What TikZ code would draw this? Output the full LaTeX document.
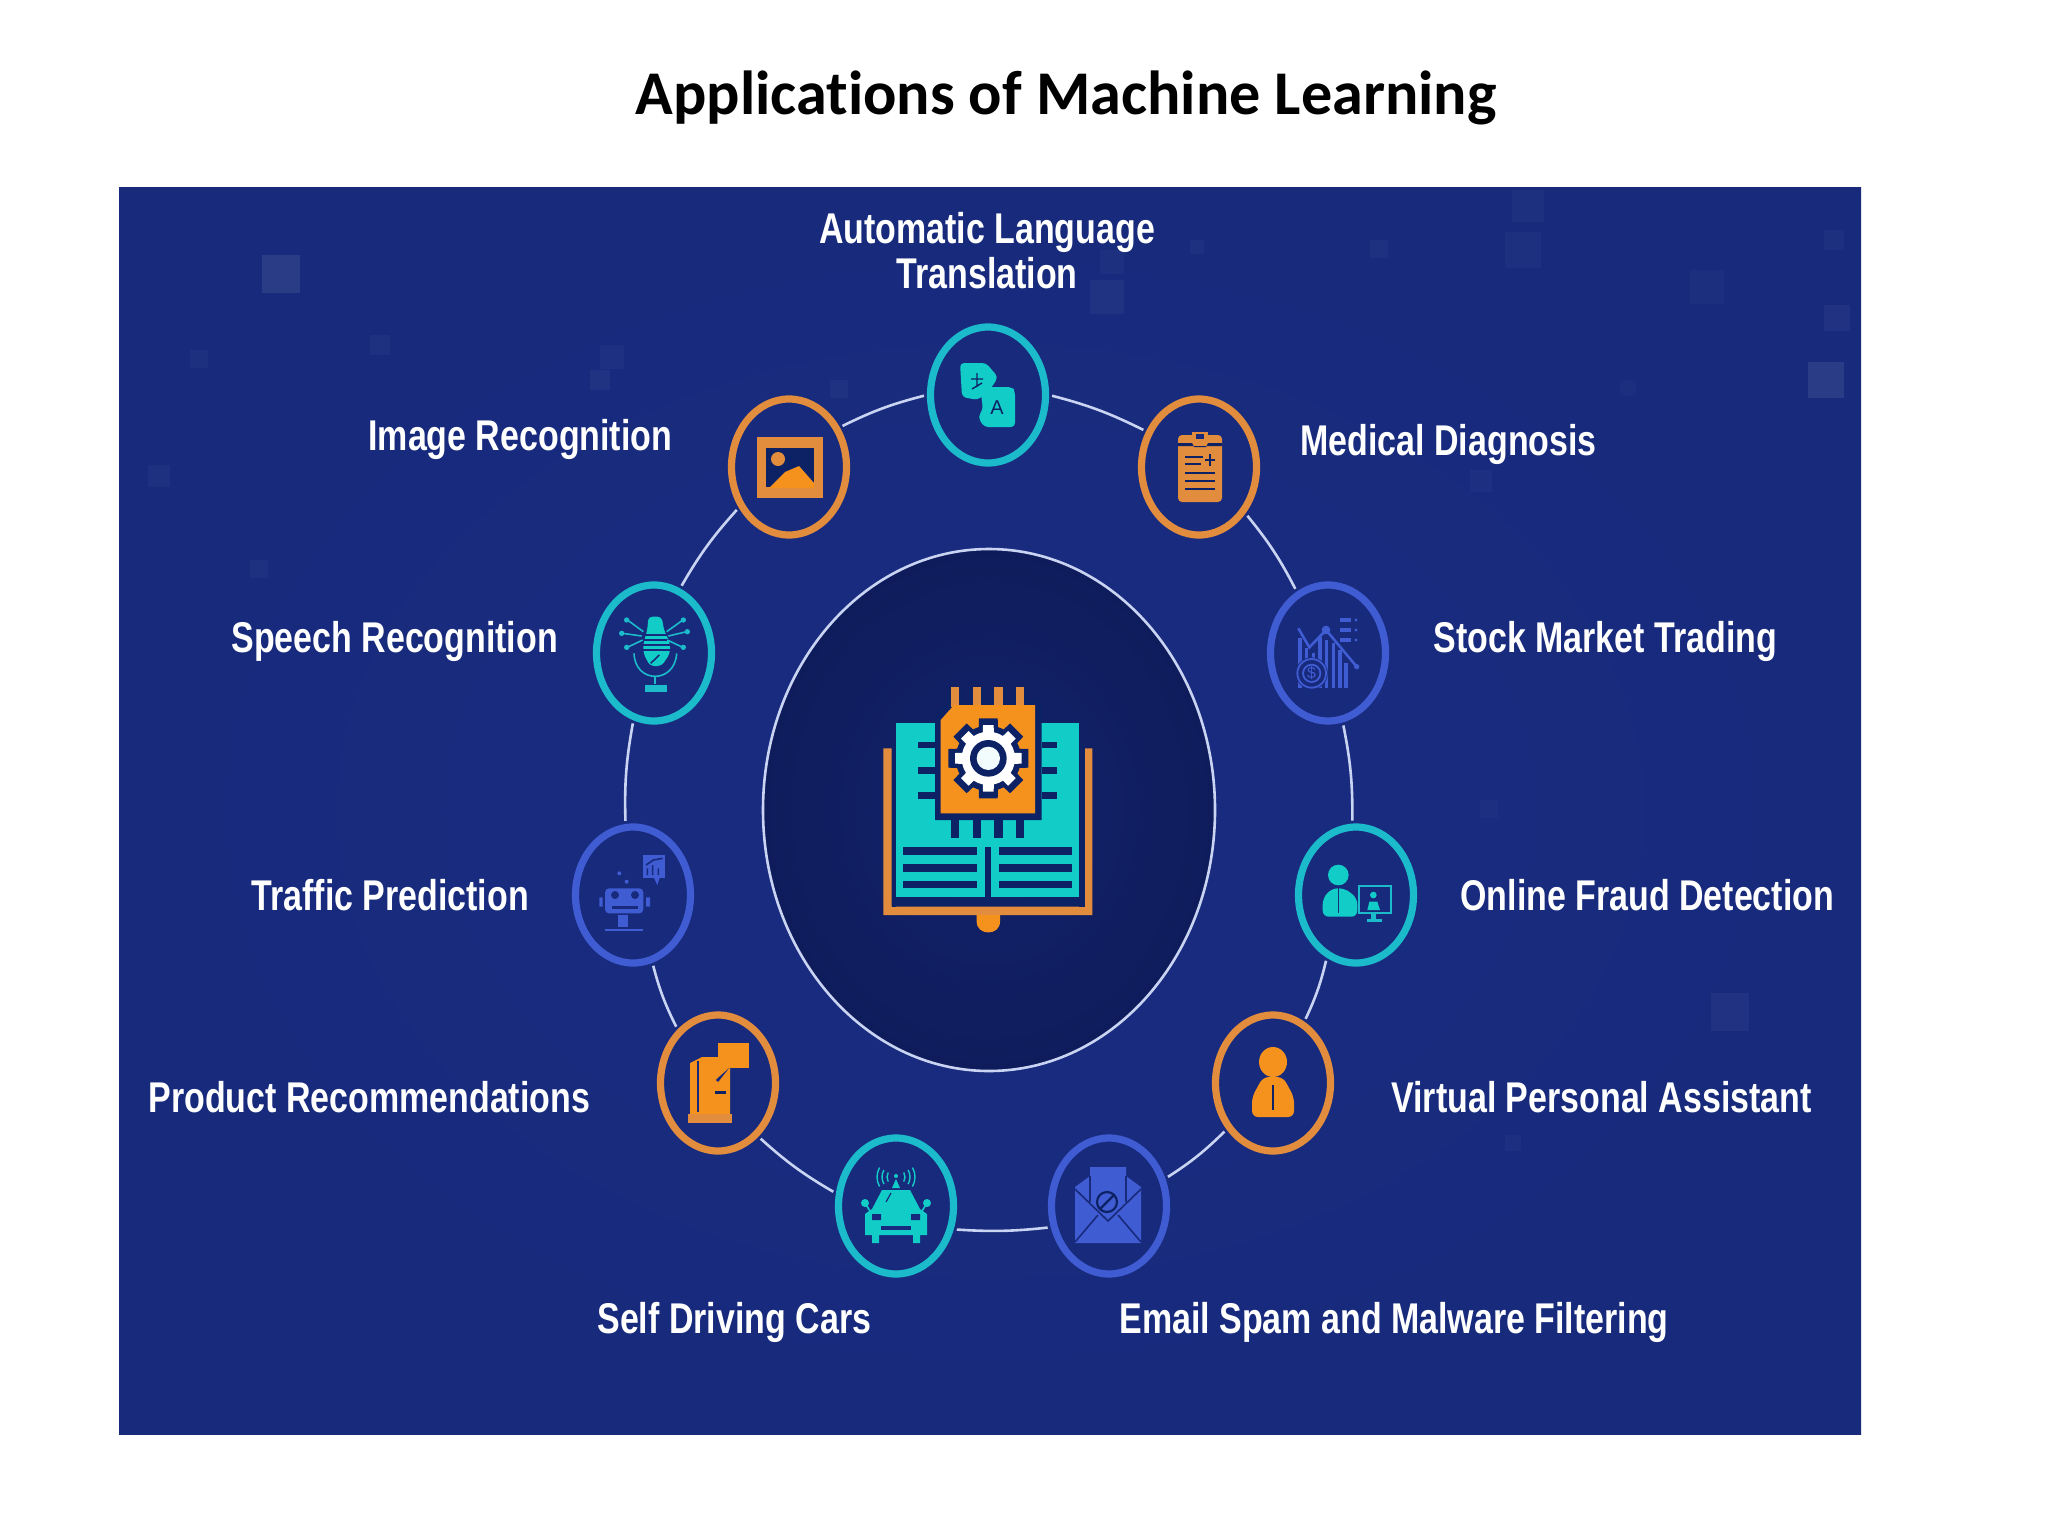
\documentclass[tikz,border=0pt]{standalone}
\usepackage{fontspec}
\usetikzlibrary{shapes.geometric,calc}
\setmainfont{Liberation Sans}
\newfontfamily\titlefont[Ligatures=NoCommon]{Carlito}
\newfontfamily\lblfont[FakeStretch=0.79]{Liberation Sans}
\definecolor{panel}{HTML}{172A7C}
\definecolor{panelglow}{HTML}{192C80}
\definecolor{corein}{HTML}{13236C}
\definecolor{coreout}{HTML}{0F1C5C}
\definecolor{ringline}{HTML}{C9D3F2}
\definecolor{orng}{HTML}{E28C3E}
\definecolor{orngfill}{HTML}{F5921E}
\definecolor{tealring}{HTML}{1CBBCB}
\definecolor{tealfill}{HTML}{12CCC8}
\definecolor{bluering}{HTML}{405CD2}
\definecolor{darkink}{HTML}{0D2264}
\tikzset{
  hub/.style={ellipse,inner sep=0pt,minimum width=57.5pt,minimum height=68pt,line width=3.6pt,fill=panel},
  hubteal/.style={hub,draw=tealring},
  huborange/.style={hub,draw=orng},
  hubblue/.style={hub,draw=bluering},
  lbl/.style={text=white,font=\lblfont\bfseries\fontsize{21.5}{22.5}\selectfont,align=center,inner sep=0pt,text height=15.4pt,text depth=0pt},
  arc/.style={draw=ringline,line width=1.3pt,shorten <=1.5pt,shorten >=1.5pt},
  zoomunit/.style={x=0.16667pt,y=-0.16667pt},
}
\begin{document}
\begin{tikzpicture}[x=0.5pt,y=-0.5pt]
\useasboundingbox (0,0) rectangle (2048,1536);
\fill[white] (0,0) rectangle (2048,1536);
% title
\node[font=\titlefont\bfseries\fontsize{31.1}{34}\selectfont,text=black,inner sep=0pt] (title) at (1066,98) {Applications of Machine Learning};
% panel
\shade[inner color=panelglow,outer color=panel] (119,187) rectangle (1861,1434);
% faint squares
\foreach \px/\py/\ps/\po in {262/255/38/.4,1808/362/36/.4,1711/993/38/.18,1512/190/32/.12,1505/232/36/.12,1824/305/26/.18,1824/230/20/.12,1090/280/34/.18,1100/250/24/.12,600/345/24/.15,590/370/20/.18,370/335/20/.15,190/350/18/.12,148/465/22/.14,250/560/18/.14,1370/240/18/.14,1690/270/34/.1,1620/380/16/.1,1470/470/22/.1,830/380/18/.14,1480/800/18/.1,1505/1135/16/.1,1190/240/14/.14}
  \fill[white,opacity=\po*0.22] (\px,\py) rectangle ++(\ps,\ps);
% centre
\node[ellipse,inner sep=0pt,minimum width=226pt,minimum height=261pt,draw=ringline,line width=1.3pt,inner color=corein,outer color=coreout] (core) at (989,810) {};
% hubs
\node[hubteal] (auto) at (988,395) {};
\node[huborange] (medical) at (1199,467) {};
\node[hubblue] (stock) at (1328,653) {};
\node[hubteal] (online) at (1356,895) {};
\node[huborange] (virtual) at (1273,1083) {};
\node[hubblue] (email) at (1109,1206) {};
\node[hubteal] (self) at (896,1206) {};
\node[huborange] (product) at (718,1083) {};
\node[hubblue] (traffic) at (633,895) {};
\node[hubteal] (speech) at (654,653) {};
\node[huborange] (image) at (789,467) {};
% connectors
\draw[arc] (auto.0) to[bend left=6] (medical.146);
\draw[arc] (medical.-45) to[bend left=6] (stock.117);
\draw[arc] (stock.-78) to[bend left=6] (online.93);
\draw[arc] (online.-115) to[bend left=6] (virtual.63);
\draw[arc] (virtual.-135) to[bend left=6] (email.26);
\draw[arc] (email.200) to[bend left=5] (self.-22);
\draw[arc] (self.168) to[bend left=6] (product.-53);
\draw[arc] (product.127) to[bend left=6] (traffic.-74);
\draw[arc] (traffic.96) to[bend left=6] (speech.-107);
\draw[arc] (speech.68) to[bend left=6] (image.-141);
\draw[arc] (image.38) to[bend left=6] (auto.180);
% central icon
\begin{scope}[shift={(820,640)},zoomunit]
  \fill[orng] (190,325) -- (215,325) -- (215,800) -- (795,800) -- (795,325) -- (817,325) -- (817,825) -- (190,825) -- cycle;
  \fill[orngfill] (470,825) -- (470,845) .. controls (470,888) and (540,888) .. (540,845) -- (540,825) -- cycle;
  \fill[darkink] (215,310) rectangle (228,800);
  \fill[darkink] (778,310) rectangle (795,800);
  \fill[tealfill] (228,250) rectangle (778,772);
  \fill[darkink] (215,775) rectangle (795,797);
  \fill[darkink] (495,620) rectangle (513,780);
  \foreach \ly in {622,672,722} {
    \fill[darkink] (250,\ly) rectangle (470,\ly+23);
    \fill[darkink] (537,\ly) rectangle (755,\ly+23);
  }
  \foreach \ly in {305,382,457} {
    \fill[darkink] (295,\ly) rectangle (345,\ly+20);
    \fill[darkink] (665,\ly) rectangle (712,\ly+20);
  }
  \foreach \lx in {393,458,523,588} {
    \fill[darkink] (\lx,540) rectangle (\lx+25,595);
    \fill[darkink] (\lx-12,150) rectangle (\lx+37,195);
  }
  \fill[darkink] (345,228) -- (392,178) -- (665,178) -- (665,540) -- (345,540) -- cycle;
  \foreach \lx in {393,458,523,588}
    \fill[orng] (\lx,140) rectangle (\lx+25,200);
  \fill[orngfill] (362,240) -- (402,195) -- (645,195) -- (645,520) -- (362,520) -- cycle;
  \fill[darkink] (505,355) circle (98);
  \foreach \ga in {0,45,...,315}
    \fill[darkink,rotate around={\ga:(505,355)}] (473,355) -- (477,235) -- (533,235) -- (537,355) -- cycle;
  \fill[white] (505,355) circle (80);
  \foreach \ga in {0,45,...,315}
    \fill[white,rotate around={\ga:(505,355)}] (487,355) -- (489,255) -- (521,255) -- (523,355) -- cycle;
  \fill[darkink] (505,355) circle (55);
  \fill[white!95!tealfill] (505,355) circle (35);
\end{scope}
% automatic translation icon
\begin{scope}[shift={(988,395)}]
  \fill[tealfill,rounded corners=2pt] (-28,-32) -- (-2,-32) -- (10,-18) -- (4,-8) -- (-10,5) -- (-26,2) -- cycle;
  \fill[tealfill,rounded corners=2pt] (-8,-8) -- (24,-8) -- (27,-4) -- (27,32) -- (-4,32) -- (-10,22) -- (-5,14) -- cycle;
  \draw[darkink,line width=.7pt] (-17,-16) -- (-5,-16) (-11,-22) -- (-11,-8) (-16,-6) -- (-6,-12);
  \node[text=darkink,font=\fontsize{10}{10}\selectfont,inner sep=0pt] (glyphA) at (9,13) {A};
\end{scope}
% image icon
\begin{scope}[shift={(789,467)}]
  \fill[orng] (-32,-30) rectangle (34,31);
  \fill[darkink] (-23,-19) rectangle (25,20);
  \fill[orng] (-11,-8) circle (7);
  \fill[orngfill] (-20,21) -- (-4,5) -- (10,-1) -- (25,16) -- (25,21) -- cycle;
\end{scope}
% medical icon
\begin{scope}[shift={(1199,467)}]
  \fill[orng,rounded corners=2pt] (-21,-32) rectangle (23,35);
  \fill[orng] (-7,-35) rectangle (9,-24);
  \fill[darkink] (-21,-24) -- (-7,-24) -- (-5,-20) -- (7,-20) -- (9,-24) -- (23,-24) -- (23,-21) -- (-21,-21) -- cycle;
  \fill[panel] (-3,-33) rectangle (5,-28);
  \draw[darkink,line width=1.1pt] (-14,-10) -- (4,-10) (-14,-3) -- (2,-3) (-14,6) -- (16,6) (-14,14) -- (16,14) (-14,22) -- (16,22) (11,-13) -- (11,-1) (6,-7) -- (16,-7);
\end{scope}
% speech icon
\begin{scope}[shift={(560,560)},zoomunit]
  \fill[tealfill,rounded corners=2pt] (265,170) -- (305,170) -- (312,210) -- (330,250) -- (330,280) -- (305,318) -- (270,318) -- (250,280) -- (250,250) -- (262,210) -- cycle;
  \draw[panel,line width=.8pt] (240,225) -- (340,225) (240,240) -- (340,240) (240,255) -- (340,255) (240,270) -- (340,270);
  \draw[panel,line width=.8pt] (272,310) -- (298,285);
  \draw[tealring,line width=.8pt] (222,280) .. controls (225,372) and (345,372) .. (350,280);
  \draw[tealring,line width=.8pt] (285,352) -- (285,372);
  \fill[tealring] (255,375) rectangle (320,397);
  \draw[tealring,line width=.8pt] (250,215) -- (205,182) (245,228) -- (188,220) (248,240) -- (202,262)
     (320,215) -- (366,182) (325,228) -- (380,215) (322,240) -- (368,262);
  \foreach \dx/\dy in {200/180,185/220,200/262,370/180,382/215,370/262}
    \fill[tealring] (\dx,\dy) circle (8);
\end{scope}
% traffic icon
\begin{scope}[shift={(560,560)},zoomunit]
  \fill[bluering] (248,885) rectangle (315,955);
  \fill[bluering] (280,950) -- (300,950) -- (292,975) -- cycle;
  \draw[panel,line width=.8pt] (262,945) -- (262,925) (278,945) -- (278,915) (295,945) -- (295,925) (258,915) -- (280,900) -- (308,895);
  \fill[bluering,rounded corners=2pt] (135,985) rectangle (250,1060);
  \fill[panel] (165,1005) circle (12) (225,1005) circle (12);
  \fill[panel] (155,1038) rectangle (235,1046);
  \fill[bluering] (118,1012) rectangle (128,1040) (258,1012) rectangle (270,1040);
  \fill[bluering] (175,1065) rectangle (205,1100);
  \fill[bluering] (135,1107) rectangle (250,1114);
  \fill[bluering] (178,940) circle (6) (200,965) circle (6);
\end{scope}
% stock icon
\begin{scope}[shift={(1250,560)},zoomunit]
  \foreach \bx/\by in {145/235,165/265,185/280,205/230,225/240,245/250,265/270,283/310}
    \fill[bluering] (\bx,\by) rectangle (\bx+10,385);
  \draw[bluering,line width=1.3pt] (145,205) -- (178,262) -- (228,210) -- (320,320);
  \fill[bluering] (228,210) circle (13) (320,320) circle (8);
  \fill[panel] (185,340) circle (48);
  \draw[bluering,line width=.9pt] (185,340) circle (43) (185,340) circle (26);
  \node[text=bluering,font=\fontsize{8}{8}\selectfont,inner sep=0pt] (dollar) at (185,340) {\$};
  \foreach \ly in {180,210,240} {
    \fill[bluering] (270,\ly-5) rectangle (302,\ly+5);
    \fill[bluering] (318,\ly) circle (5);
  }
\end{scope}
% online fraud icon
\begin{scope}[shift={(1250,560)},zoomunit]
  \fill[tealfill] (265,945) circle (31);
  \fill[tealfill,rounded corners=3pt] (218,1070) -- (218,1015) -- (245,985) -- (285,985) -- (322,1015) -- (322,1070) -- cycle;
  \draw[panel,line width=.6pt] (265,985) -- (265,1060);
  \draw[tealring,line width=1.1pt] (328,977) rectangle (422,1058);
  \fill[tealfill] (370,1005) circle (10);
  \fill[tealfill] (352,1050) -- (358,1025) -- (382,1025) -- (390,1050) -- cycle;
  \fill[tealring] (362,1060) rectangle (378,1078);
  \fill[tealring] (350,1078) rectangle (396,1085);
\end{scope}
% virtual assistant icon
\begin{scope}[shift={(1273,1083)}]
  \fill[orngfill] (0,-21) ellipse (14 and 15);
  \fill[orngfill,rounded corners=3pt] (-21,34) -- (-21,14) -- (-10,-6) -- (10,-6) -- (21,14) -- (21,34) -- cycle;
  \draw[darkink,line width=1.2pt] (0,2) -- (0,27);
\end{scope}
% email icon
\begin{scope}[shift={(1109,1206)}]
  \fill[bluering] (-34,-19) -- (-19,-30) -- (-19,-39) -- (17,-39) -- (17,-30) -- (32,-19) -- (32,37) -- (-34,37) -- cycle;
  \draw[panel,line width=.8pt] (-34,-17) -- (-1,15) -- (32,-17);
  \draw[panel,line width=.8pt] (-34,36) -- (-11,9) (32,36) -- (9,9);
  \draw[panel,line width=.8pt] (-19,-30) -- (-19,-4) (17,-30) -- (17,-4);
  \draw[darkink,line width=1.1pt] (-2,-4) circle (10) (-9,3) -- (5,-11);
\end{scope}
% self driving icon
\begin{scope}[shift={(896,1206)}]
  \fill[tealfill] (-14,-16) -- (14,-16) -- (24,3) -- (31,8) -- (31,29) -- (-31,29) -- (-31,8) -- (-24,3) -- cycle;
  \fill[tealfill] (-24,29) rectangle (-17,37) (17,29) rectangle (24,37);
  \fill[tealfill] (-31,-3) circle (4) (31,-3) circle (4);
  \draw[tealfill,line width=.8pt] (-31,-3) -- (-26,5) (31,-3) -- (26,5);
  \fill[panel] (-24,8) rectangle (-15,14) (15,8) rectangle (24,14);
  \fill[panel] (-15,20) rectangle (15,24);
  \draw[panel,line width=.6pt] (-10,-4) -- (-5,-13);
  \fill[tealfill] (0,-27) -- (4,-18) -- (-4,-18) -- cycle;
  \fill[tealfill] (0,-30) circle (2);
  \foreach \ar in {9,14,19} {
    \draw[tealfill,line width=.7pt] ($(0,-29)+(150:\ar)$) arc (150:210:\ar);
    \draw[tealfill,line width=.7pt] ($(0,-29)+(30:\ar)$) arc (30:-30:\ar);
  }
\end{scope}
% product icon
\begin{scope}[shift={(718,1083)}]
  \fill[orngfill] (-16,-26) -- (8,-26) -- (8,-16) -- (12,-16) -- (12,31) -- (-28,31) -- (-28,-20) -- cycle;
  \draw[panel,line width=.8pt] (-20,-22) -- (-20,29);
  \fill[orng] (-30,31) rectangle (14,40);
  \fill[darkink] (-3,8) rectangle (8,11);
  \draw[panel,line width=1.5pt] (-1,-2) -- (10,-16);
  \fill[orngfill] (0,-40) rectangle (31,-15);
  \fill[orngfill] (2,-16) -- (12,-16) -- (-6,0) -- cycle;
\end{scope}
% labels
\node[lbl] (lauto) at (987,273) {Automatic Language\\Translation};
\node[lbl,anchor=west] (limage) at (368,435) {Image Recognition};
\node[lbl,anchor=west] (lmedical) at (1300,440) {Medical Diagnosis};
\node[lbl,anchor=west] (lstock) at (1433,637) {Stock Market Trading};
\node[lbl,anchor=west] (lspeech) at (231,637) {Speech Recognition};
\node[lbl,anchor=west] (ltraffic) at (251,895) {Traffic Prediction};
\node[lbl,anchor=west] (lonline) at (1460,895) {Online Fraud Detection};
\node[lbl,anchor=west] (lproduct) at (148,1097) {Product Recommendations};
\node[lbl,anchor=west] (lvirtual) at (1391,1097) {Virtual Personal Assistant};
\node[lbl,anchor=west] (lself) at (597,1318) {Self Driving Cars};
\node[lbl,anchor=west] (lemail) at (1119,1318) {Email Spam and Malware Filtering};
\end{tikzpicture}
\end{document}
